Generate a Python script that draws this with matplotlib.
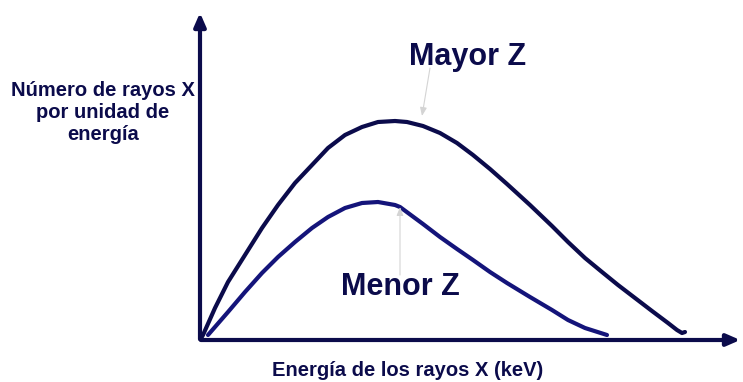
import matplotlib.pyplot as plt
import numpy as np

plt.rcParams['font.family'] = ['Liberation Sans', 'DejaVu Sans']

# curves (arbitrary units, origin at the axes corner)
energia_mayor = [0, 3, 15, 28, 45, 62, 78, 95, 112, 128, 145, 162, 178, 195, 207, 223, 240, 257,
                 273, 290, 307, 330, 352, 368, 385, 402, 418, 435, 452, 468, 477, 482, 485]
cuentas_mayor = [0, 5, 32, 58, 85, 112, 135, 157, 175, 192, 205, 213, 218, 219, 218, 214, 207, 197,
                 185, 171, 156, 135, 114, 98, 82, 68, 55, 42, 29, 17, 10, 7, 8]
energia_menor = [8, 28, 45, 62, 78, 95, 112, 128, 145, 162, 178, 195, 200, 223, 240, 257, 273,
                 290, 307, 330, 352, 368, 385, 407]
cuentas_menor = [5, 28, 48, 67, 83, 98, 112, 123, 132, 137, 138, 135, 133, 116, 103, 91, 80,
                 68, 57, 43, 30, 20, 12, 5]

navy = '#0b0b4b'
navy2 = '#14147a'

fig = plt.figure(figsize=(7.43, 3.82), dpi=100)
ax = fig.add_axes([200/743, 42/382, 543/743, 328/382])
ax.set_xlim(0, 543)
ax.set_ylim(0, 328)
ax.axis('off')

ax.plot(energia_mayor, cuentas_mayor, color=navy, lw=3, solid_capstyle='round', solid_joinstyle='round')
ax.plot(energia_menor, cuentas_menor, color=navy2, lw=3, solid_capstyle='round', solid_joinstyle='round')

# axes with arrows
ax.annotate('', xy=(543, 0), xytext=(-2, 0), annotation_clip=False,
            arrowprops=dict(arrowstyle='-|>,head_length=0.8,head_width=0.35', color=navy, lw=3))
ax.annotate('', xy=(0, 330), xytext=(0, -2), annotation_clip=False,
            arrowprops=dict(arrowstyle='-|>,head_length=0.8,head_width=0.35', color=navy, lw=3))

# callouts
grey_arrow = dict(arrowstyle='-|>,head_length=0.5,head_width=0.2', color='#d4d4d4', lw=0.8,
                  shrinkA=0, shrinkB=0)
ax.annotate('', xy=(222, 224), xytext=(230, 272), annotation_clip=False, arrowprops=grey_arrow)
ax.annotate('', xy=(200, 133), xytext=(200, 65), annotation_clip=False, arrowprops=grey_arrow)
ax.text(268, 283, 'Mayor Z', ha='center', va='center', fontsize=22, fontweight='bold', color=navy)
ax.text(200, 53, 'Menor Z', ha='center', va='center', fontsize=22, fontweight='bold', color=navy)

fig.text(103/743, 1 - 113/382, 'Número de rayos X\npor unidad de\nenergía', ha='center', va='center',
         fontsize=14.5, fontweight='bold', color=navy, linespacing=1.2)
fig.text(408/743, 1 - 371/382, 'Energía de los rayos X (keV)', ha='center', va='center',
         fontsize=14.5, fontweight='bold', color=navy)

fig.savefig('out.png', dpi=100)
